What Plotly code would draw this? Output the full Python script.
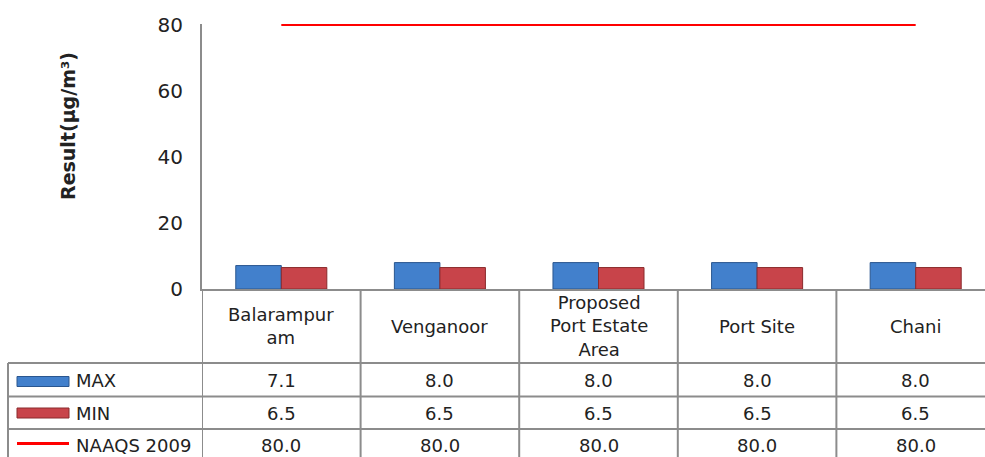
import plotly.graph_objects as go

categories = ["Balarampur<br>am", "Venganoor", "Proposed<br>Port Estate<br>Area", "Port Site", "Chani"]
max_vals = [7.1, 8.0, 8.0, 8.0, 8.0]
min_vals = [6.5, 6.5, 6.5, 6.5, 6.5]
naaqs_vals = [80.0, 80.0, 80.0, 80.0, 80.0]
series_names = ["MAX", "MIN", "NAAQS 2009"]
y_ticks = [0, 20, 40, 60, 80]

W, H = 985, 457
FONT = "DejaVu Sans, Verdana, sans-serif"
TXT = "#222222"
GRID = "#8c8c8c"

def px(x):
    return x / W

def py(y):
    return 1 - y / H

Y_MAX = 80.4
plot_left, plot_bottom = 202, 289
plot_top = 289 - (289 - 25) * Y_MAX / 80
row_lines = [363, 396.5, 429]
row_centers = [380, 413, 445]
cat_center = 326

blue, blue_edge = "#4280cc", "#2a568f"
red, red_edge = "#c8444a", "#8a2a2c"

fig = go.Figure()
fig.add_trace(go.Bar(x=categories, y=max_vals, name=series_names[0],
                     marker=dict(color=blue, line=dict(color=blue_edge, width=1))))
fig.add_trace(go.Bar(x=categories, y=min_vals, name=series_names[1],
                     marker=dict(color=red, line=dict(color=red_edge, width=1))))
fig.add_trace(go.Scatter(x=categories, y=naaqs_vals, name=series_names[2], mode="lines",
                         line=dict(color="#ff0000", width=2), cliponaxis=False))

n = len(categories)
shapes = []
for i in range(n):
    shapes.append(dict(type="line", xref="x", yref="paper", x0=i - 0.5, x1=i - 0.5,
                       y0=py(plot_bottom), y1=0, line=dict(color=GRID, width=2)))
shapes.append(dict(type="line", xref="paper", yref="paper", x0=px(8), x1=px(8),
                   y0=py(row_lines[0]), y1=0, line=dict(color=GRID, width=2)))
for yl in row_lines:
    shapes.append(dict(type="line", xref="paper", yref="paper", x0=px(8), x1=1,
                       y0=py(yl), y1=py(yl), line=dict(color=GRID, width=2)))
shapes.append(dict(type="rect", xref="paper", yref="paper", x0=px(17), x1=px(69),
                   y0=py(386.5), y1=py(376.5), fillcolor=blue, line=dict(color=blue_edge, width=1)))
shapes.append(dict(type="rect", xref="paper", yref="paper", x0=px(17), x1=px(69),
                   y0=py(418), y1=py(408), fillcolor=red, line=dict(color=red_edge, width=1)))
shapes.append(dict(type="line", xref="paper", yref="paper", x0=px(17), x1=px(69),
                   y0=py(443.5), y1=py(443.5), line=dict(color="#ff0000", width=3)))

def ann(**kw):
    base = dict(showarrow=False, xanchor="center", yanchor="middle",
                font=dict(family=FONT, size=18, color=TXT))
    base.update(kw)
    return base

annotations = []
for i, c in enumerate(categories):
    annotations.append(ann(x=c, xref="x", y=py(cat_center), yref="paper", text=c))
    for r, vals in enumerate([max_vals, min_vals, naaqs_vals]):
        annotations.append(ann(x=c, xref="x", y=py(row_centers[r]), yref="paper",
                               text=f"{vals[i]:.1f}"))
for r, name in enumerate(series_names):
    annotations.append(ann(x=px(74), xref="paper", y=py(row_centers[r]), yref="paper",
                           text=name, xanchor="left"))
annotations.append(ann(x=px(68), xref="paper", y=py(126), yref="paper",
                       text="<b>Result(µg/m³)</b>", textangle=-90,
                       font=dict(family=FONT, size=19, color=TXT)))

fig.update_layout(
    width=W, height=H,
    margin=dict(l=0, r=0, t=0, b=0, autoexpand=False),
    paper_bgcolor="white", plot_bgcolor="white",
    showlegend=False,
    barmode="group", bargap=0.426, bargroupgap=0,
    shapes=shapes, annotations=annotations,
    xaxis=dict(domain=[px(plot_left), 1], range=[-0.5, 4.437], showticklabels=False,
               showgrid=False, showline=True, linecolor=GRID, linewidth=2, ticks="",
               zeroline=False, automargin=False),
    yaxis=dict(domain=[py(plot_bottom), py(plot_top)], range=[0, Y_MAX], tickvals=y_ticks,
               showgrid=False, showline=True, linecolor=GRID, linewidth=2, ticks="",
               zeroline=False, ticklabelstandoff=13, automargin=False,
               tickfont=dict(family=FONT, size=20, color=TXT)),
)

fig.write_html("out.html", config={"displayModeBar": False},
               post_script="document.body.style.margin='0';")
